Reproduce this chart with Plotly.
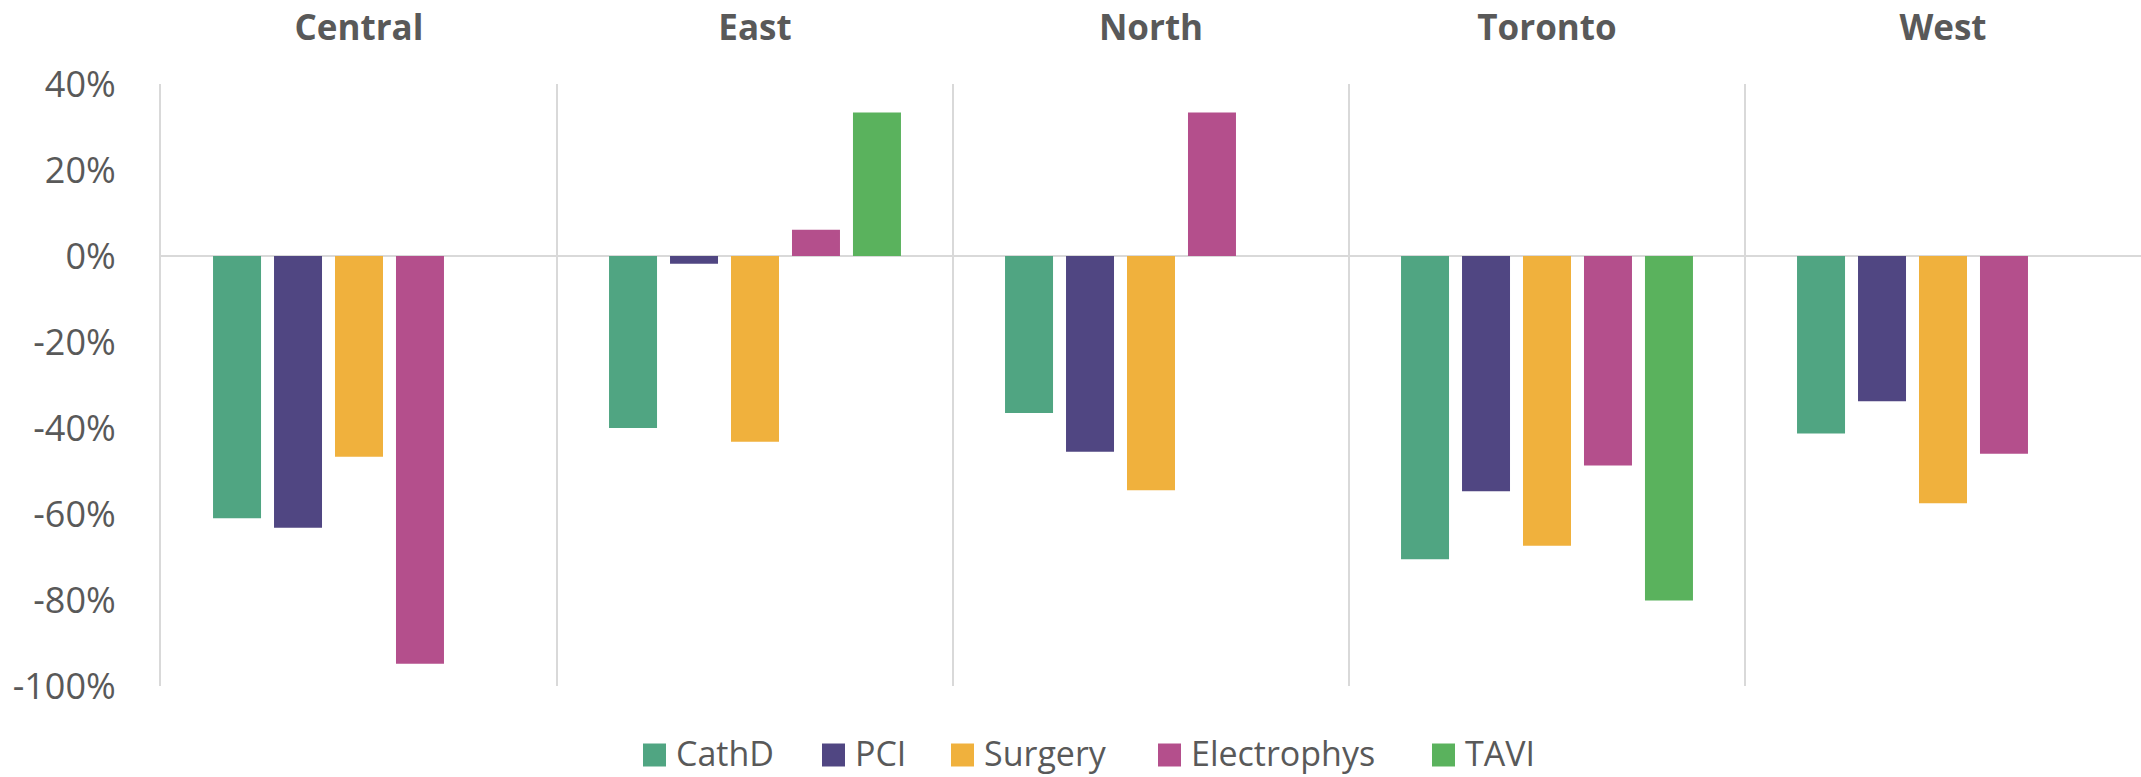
import plotly.graph_objects as go

regions = ["Central", "East", "North", "Toronto", "West"]
series_names = ["CathD", "PCI", "Surgery", "Electrophys", "TAVI"]
cathd = [-61.0, -40.0, -36.5, -70.5, -41.3]
pci = [-63.2, -1.8, -45.5, -54.7, -33.8]
surgery = [-46.7, -43.2, -54.5, -67.4, -57.5]
electrophys = [-94.8, 6.1, 33.4, -48.7, -46.0]
tavi = [None, 33.4, None, -80.1, None]
colors = ["#50A582", "#504682", "#F0B13D", "#B44F8C", "#5AB25D"]

series_values = [cathd, pci, surgery, electrophys, tavi]

W, H = 2141, 777
ML, MR, MT, MB = 161, 0, 84, 91
FONT = "Open Sans"
GREY = "#595959"

fig = go.Figure()
for name, vals, col in zip(series_names, series_values, colors):
    fig.add_trace(go.Bar(x=regions, y=vals, name=name, marker_color=col,
                         marker_line_width=0, showlegend=False))

fig.update_layout(
    width=W, height=H,
    margin=dict(l=ML, r=MR, t=MT, b=MB, pad=0),
    paper_bgcolor="white", plot_bgcolor="white",
    barmode="group", bargap=0.23, bargroupgap=0.213,
    font=dict(family=FONT, color=GREY),
)
fig.update_xaxes(
    type="category", side="top", tickson="boundaries",
    showgrid=True, gridcolor="#D9D9D9", gridwidth=2,
    showline=False, ticks="", zeroline=False,
    tickfont=dict(family=FONT, size=35, color=GREY, weight="bold"),
    ticklabelstandoff=36,
)
fig.update_yaxes(
    range=[-100, 40], tickvals=[-100, -80, -60, -40, -20, 0, 20, 40],
    ticktext=["-100%", "-80%", "-60%", "-40%", "-20%", "0%", "20%", "40%"],
    showgrid=False, zeroline=True, zerolinecolor="#D9D9D9", zerolinewidth=2,
    showline=True, linecolor="#D9D9D9", linewidth=2, ticks="",
    tickfont=dict(family=FONT, size=36, color=GREY),
    ticklabelstandoff=36,
)

# custom legend (square swatches + labels), placed in pixel terms
legend_sq_left = [643, 822, 951, 1158, 1432]
sq = 23
ly = 755
def px2x(px):
    return (px - ML) / (W - ML - MR)
def py2y(py):
    return (H - MB - py) / (H - MT - MB)
for name, col, left in zip(series_names, colors, legend_sq_left):
    fig.add_shape(type="rect", xref="paper", yref="paper",
                  x0=px2x(left), x1=px2x(left + sq),
                  y0=py2y(ly + sq / 2), y1=py2y(ly - sq / 2),
                  fillcolor=col, line_width=0)
    fig.add_annotation(xref="paper", yref="paper", x=px2x(left + sq + 9), y=py2y(ly - 2),
                       text=name, showarrow=False, xanchor="left", yanchor="middle",
                       borderpad=0,
                       font=dict(family=FONT, size=34, color=GREY))

fig.write_html("out.html", config={"displayModeBar": False},
               post_script="document.body.style.margin='0';document.body.style.overflow='hidden';")
